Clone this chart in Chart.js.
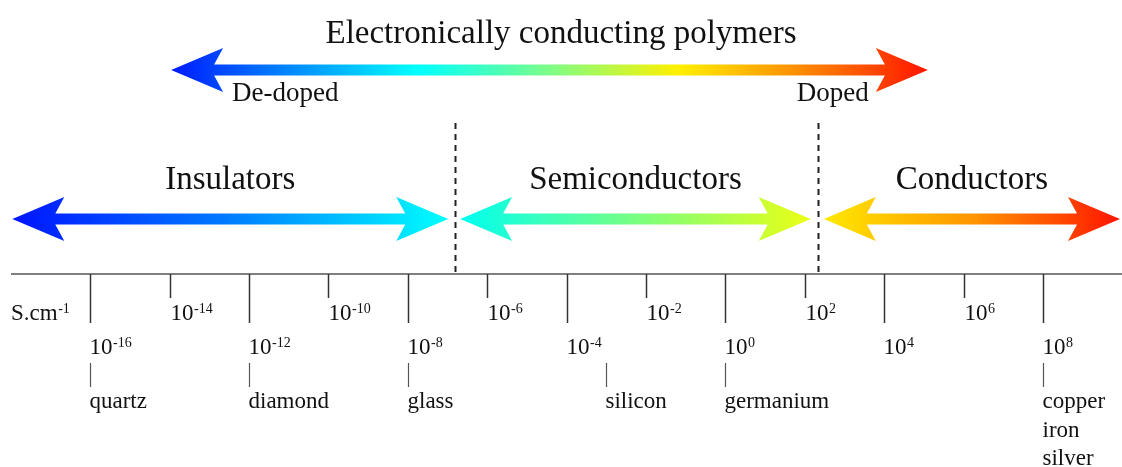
<!DOCTYPE html>
<html>
<head>
<meta charset="utf-8">
<script src="https://cdn.jsdelivr.net/npm/chart.js@4/dist/chart.umd.min.js"></script>
<style>
  html, body { margin: 0; padding: 0; background: #fff; }
  #wrap { width: 1122px; height: 467px; }
</style>
</head>
<body>
<div id="wrap"><canvas id="scale" width="1122" height="467"></canvas></div>
<script>
// conductivity exponents (S/cm = 10^x)
const majorExps = [-16, -12, -8, -4, 0, 4, 8];
const minorExps = [-14, -10, -6, -2, 2, 6];
const unitLabel = ["S.cm", "-1"];

const materialExps = [-16, -12, -8, -3, 0, 8];
const materialNames = [["quartz"], ["diamond"], ["glass"], ["silicon"], ["germanium"], ["copper", "iron", "silver"]];

const classNames = ["Insulators", "Semiconductors", "Conductors"];
const classFrom = [-17.96, -6.68, 2.48];
const classTo = [-6.98, 2.15, 9.94];
const boundaries = [-6.81, 2.33];

const polymerTitle = "Electronically conducting polymers";
const polymerRange = [-13.96, 5.1];
const polymerEnds = ["De-doped", "Doped"];

// gradient stops for each arrow
const classColors = [
  [[0, "rgb(0,20,255)"], [0.5, "rgb(0,125,255)"], [1, "rgb(0,255,255)"]],
  [[0, "rgb(0,255,240)"], [0.5, "rgb(120,255,130)"], [1, "rgb(235,255,20)"]],
  [[0, "rgb(255,232,0)"], [0.5, "rgb(255,150,0)"], [1, "rgb(255,20,0)"]]
];
const polymerColors = [
  [0, "rgb(0,25,255)"], [0.325, "rgb(0,255,255)"], [0.48, "rgb(110,255,150)"],
  [0.67, "rgb(255,240,0)"], [0.83, "rgb(255,140,0)"], [1, "rgb(255,20,0)"]
];

const SERIF = '"Liberation Serif", "Times New Roman", serif';

function drawArrow(ctx, x1, x2, y, stops) {
  const L = 52, N = 43, H = 22, S = 5.5;
  const grad = ctx.createLinearGradient(x1, 0, x2, 0);
  stops.forEach(s => grad.addColorStop(s[0], s[1]));
  ctx.beginPath();
  ctx.moveTo(x1, y);
  ctx.lineTo(x1 + L, y - H);
  ctx.lineTo(x1 + N, y - S);
  ctx.lineTo(x2 - N, y - S);
  ctx.lineTo(x2 - L, y - H);
  ctx.lineTo(x2, y);
  ctx.lineTo(x2 - L, y + H);
  ctx.lineTo(x2 - N, y + S);
  ctx.lineTo(x1 + N, y + S);
  ctx.lineTo(x1 + L, y + H);
  ctx.closePath();
  ctx.fillStyle = grad;
  ctx.fill();
}

function drawPower(ctx, x, y, base, exp) {
  ctx.textAlign = "left";
  ctx.font = "23px " + SERIF;
  ctx.fillText(base, x, y);
  const w = ctx.measureText(base).width;
  ctx.font = "14px " + SERIF;
  ctx.fillText(exp, x + w + 0.5, y - 7);
}

const diagramPlugin = {
  id: "conductivityDiagram",
  afterDraw(chart) {
    const ctx = chart.ctx;
    const xs = chart.scales.x;
    const px = v => xs.getPixelForValue(v);
    const axisY = 274;
    ctx.save();
    ctx.fillStyle = "#111";
    ctx.textBaseline = "alphabetic";

    // title of polymer arrow
    ctx.font = "33px " + SERIF;
    ctx.textAlign = "center";
    ctx.fillText(polymerTitle, chart.width / 2, 43);

    drawArrow(ctx, px(polymerRange[0]), px(polymerRange[1]), 70, polymerColors);
    ctx.fillStyle = "#111";
    ctx.font = "27px " + SERIF;
    ctx.textAlign = "left";
    ctx.fillText(polymerEnds[0], px(polymerRange[0]) + 61, 101);
    ctx.textAlign = "right";
    ctx.fillText(polymerEnds[1], px(polymerRange[1]) - 59, 101);

    // class arrows and names
    classNames.forEach((name, i) => {
      const a = px(classFrom[i]), b = px(classTo[i]);
      drawArrow(ctx, a, b, 219, classColors[i]);
      ctx.fillStyle = "#111";
      ctx.font = "33px " + SERIF;
      ctx.textAlign = "center";
      ctx.fillText(name, (a + b) / 2, 189);
    });

    // dashed boundaries
    ctx.strokeStyle = "#222";
    ctx.lineWidth = 2;
    ctx.setLineDash([6, 5]);
    boundaries.forEach(v => {
      const x = Math.round(px(v)) + 0.5;
      ctx.beginPath();
      ctx.moveTo(x, 123);
      ctx.lineTo(x, axisY);
      ctx.stroke();
    });
    ctx.setLineDash([]);

    // axis line
    ctx.strokeStyle = "#555";
    ctx.lineWidth = 1.5;
    ctx.beginPath();
    ctx.moveTo(11, axisY);
    ctx.lineTo(chart.width, axisY);
    ctx.stroke();

    // ticks
    ctx.strokeStyle = "#333";
    majorExps.forEach(v => {
      const x = Math.round(px(v)) + 0.5;
      ctx.beginPath();
      ctx.moveTo(x, axisY);
      ctx.lineTo(x, 323);
      ctx.stroke();
      drawPower(ctx, x - 1, 354, "10", String(v));
    });
    minorExps.forEach(v => {
      const x = Math.round(px(v)) + 0.5;
      ctx.beginPath();
      ctx.moveTo(x, axisY);
      ctx.lineTo(x, 298);
      ctx.stroke();
      drawPower(ctx, x, 320, "10", String(v));
    });
    drawPower(ctx, 11, 320, unitLabel[0], unitLabel[1]);

    // materials
    ctx.strokeStyle = "#555";
    ctx.lineWidth = 1.2;
    materialExps.forEach((v, i) => {
      const x = Math.round(px(v)) + 0.5;
      ctx.beginPath();
      ctx.moveTo(x, 363);
      ctx.lineTo(x, 387);
      ctx.stroke();
      ctx.font = "23px " + SERIF;
      ctx.textAlign = "left";
      materialNames[i].forEach((n, j) => ctx.fillText(n, x - 1, 408 + j * 28.5));
    });
    ctx.restore();
  }
};

new Chart(document.getElementById("scale"), {
  type: "scatter",
  data: { datasets: [] },
  options: {
    responsive: false,
    animation: false,
    layout: { padding: 0 },
    plugins: { legend: { display: false }, tooltip: { enabled: false } },
    scales: {
      x: { type: "linear", min: -18.27, max: 9.99, display: false },
      y: { type: "linear", min: 0, max: 1, display: false }
    }
  },
  plugins: [diagramPlugin]
});
</script>
</body>
</html>
